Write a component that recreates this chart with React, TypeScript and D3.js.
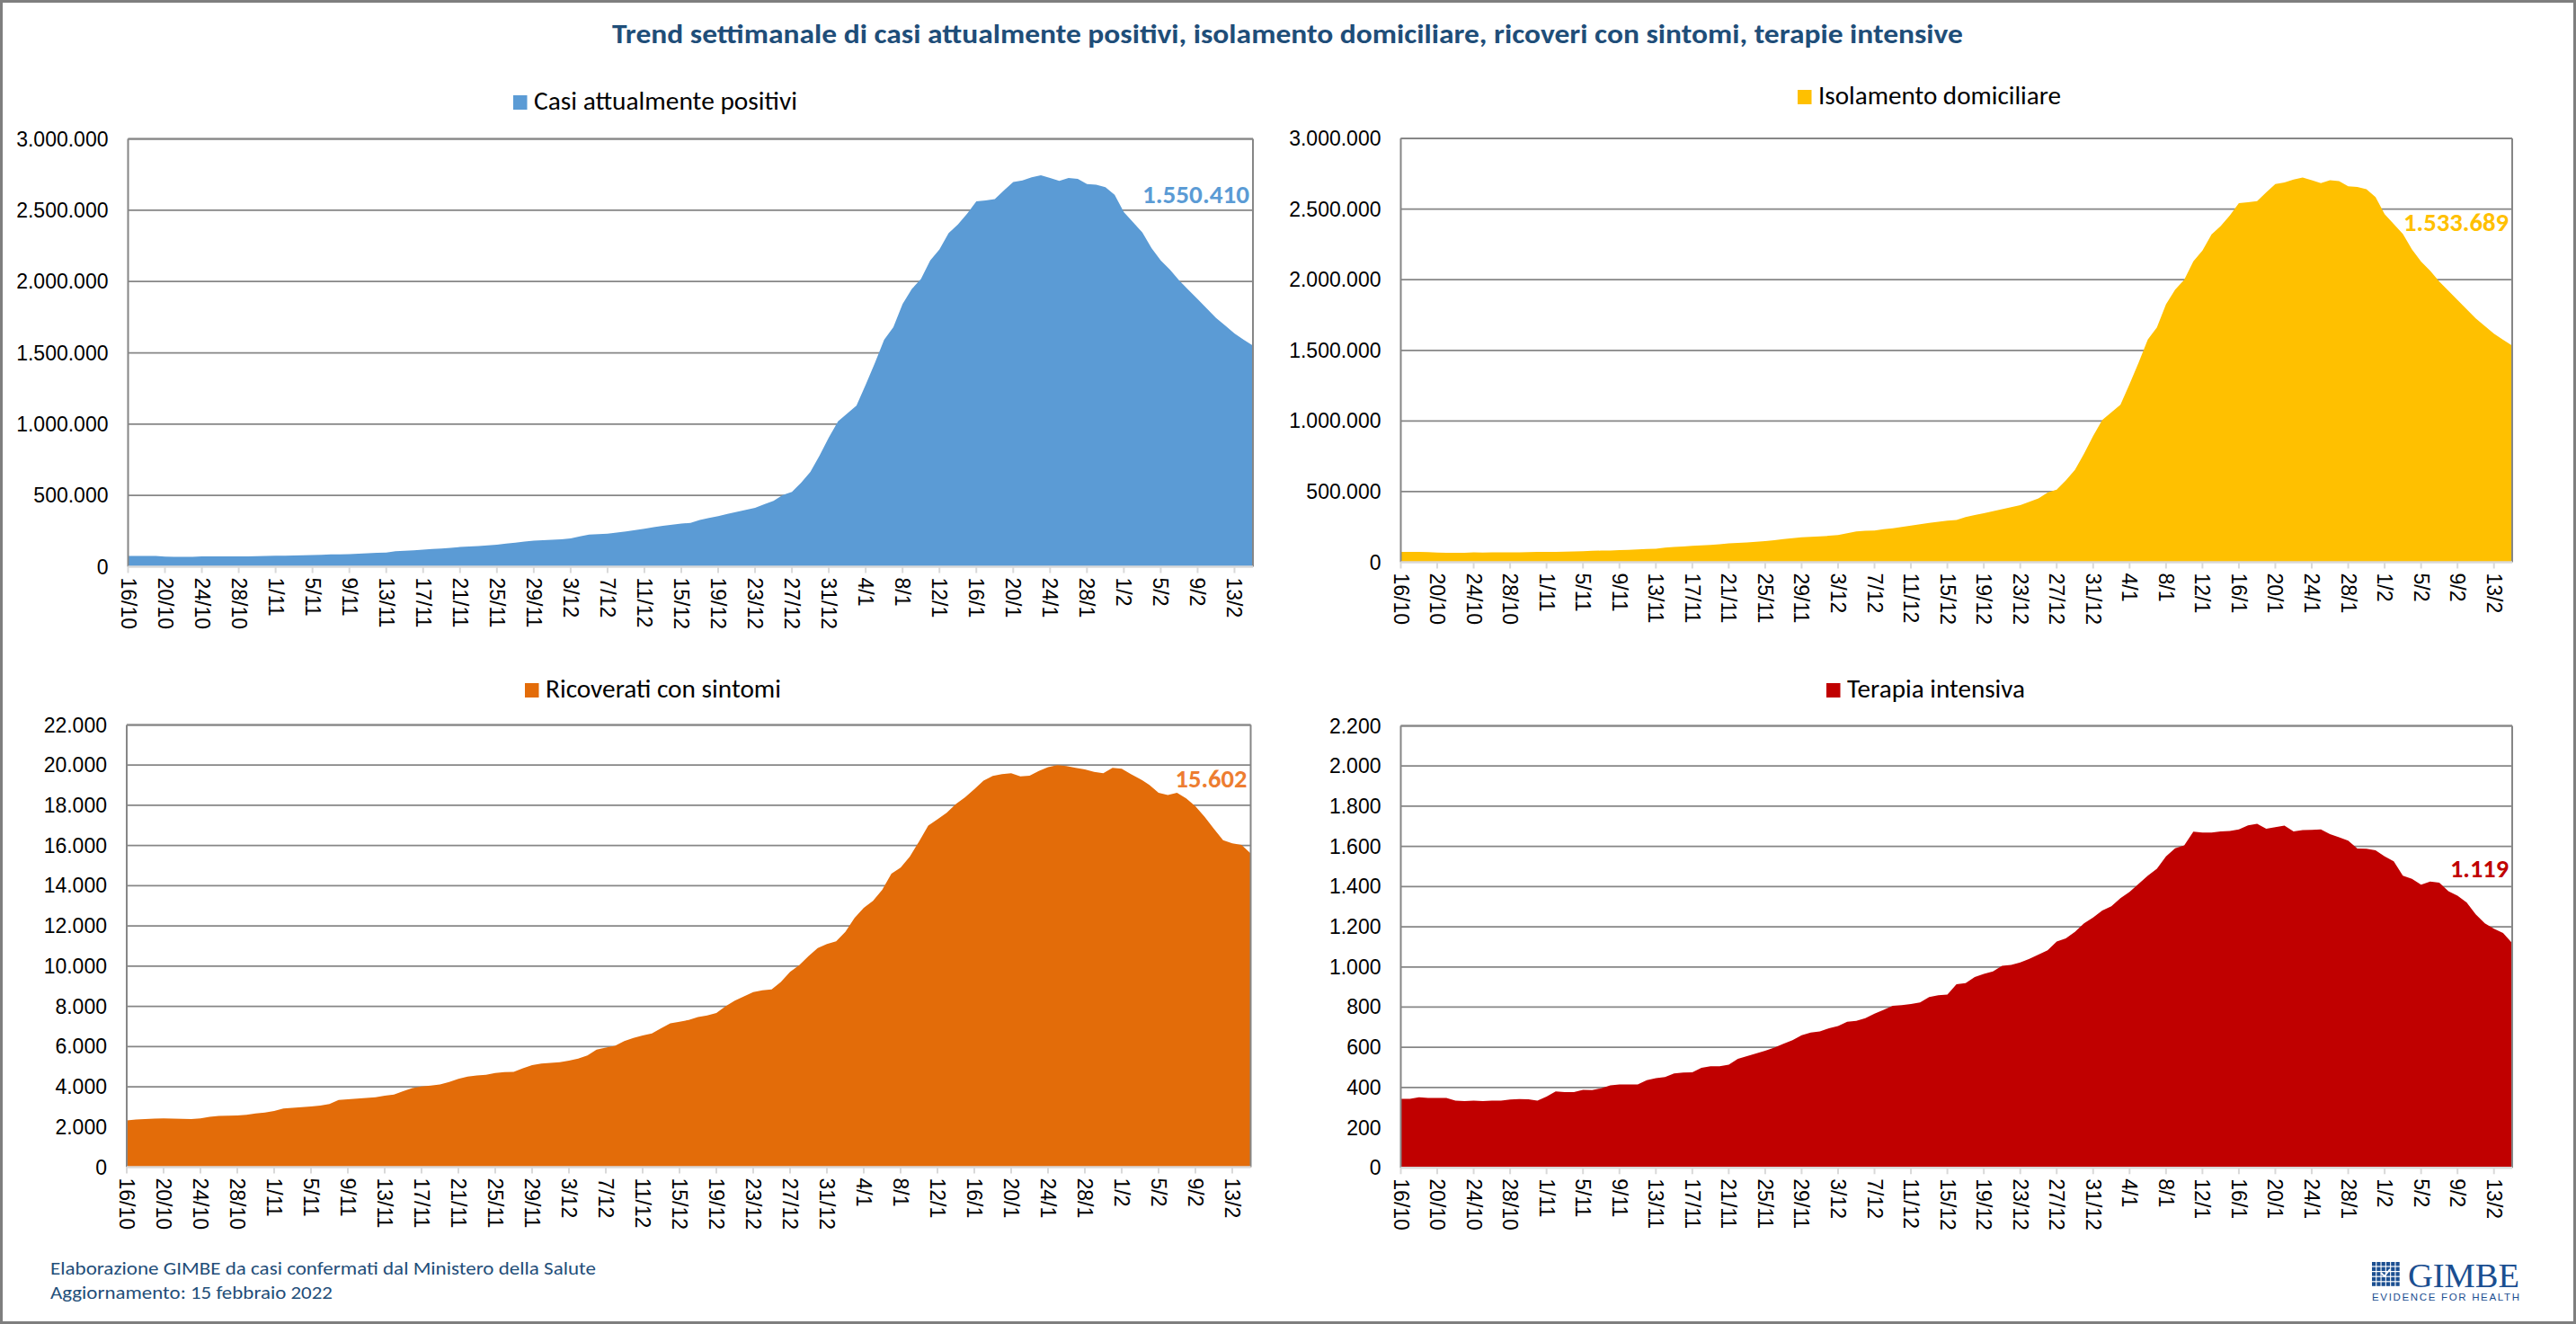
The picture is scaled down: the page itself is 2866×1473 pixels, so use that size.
import React from 'react';
import * as d3 from 'd3';

const W = 2866;
const H = 1473;

const TITLE = 'Trend settimanale di casi attualmente positivi, isolamento domiciliare, ricoveri con sintomi, terapie intensive';
const LEGENDS = ['Casi attualmente positivi', 'Isolamento domiciliare', 'Ricoverati con sintomi', 'Terapia intensiva'];
const FOOTER = ['Elaborazione GIMBE da casi confermati dal Ministero della Salute', 'Aggiornamento: 15 febbraio 2022'];

// categories: daily from 16/10/2021 to 15/02/2022
const dates = d3.timeDay.range(new Date(2021, 9, 16), new Date(2022, 1, 16));
const dateLabels = dates.map((d) => `${d.getDate()}/${d.getMonth() + 1}`);
const TICK_EVERY = 4;

const casiPositivi = [
  76000, 76000, 76000, 75000, 71000, 70000, 70000, 70000, 72000, 72000,
  73000, 73000, 73000, 73000, 74000, 76000, 77000, 77000, 78000, 80000,
  82000, 84000, 86000, 87000, 89000, 91000, 94000, 97000, 100000, 108000,
  112000, 115000, 120000, 124000, 127000, 132000, 138000, 142000, 145000, 150000,
  155000, 162000, 169000, 176000, 182000, 186000, 189000, 193000, 198000, 212000,
  225000, 229000, 231000, 240000, 248000, 257000, 266000, 277000, 286000, 294000,
  302000, 308000, 328000, 342000, 355000, 370000, 384000, 399000, 413000, 438000,
  462000, 503000, 525000, 590000, 665000, 780000, 906000, 1020000, 1074000, 1129000,
  1276000, 1429000, 1592000, 1679000, 1842000, 1947000, 2018000, 2148000, 2225000, 2340000,
  2399000, 2475000, 2562000, 2569000, 2578000, 2639000, 2698000, 2709000, 2730000, 2744000,
  2726000, 2705000, 2726000, 2719000, 2683000, 2678000, 2661000, 2607000, 2486000, 2415000,
  2344000, 2235000, 2148000, 2083000, 2007000, 1941000, 1876000, 1810000, 1744000, 1690000,
  1635000, 1592000, 1550410,
];

const isolamento = [
  73327, 73287, 73254, 72232, 68225, 67242, 67265, 67273, 69235, 69162,
  70115, 70105, 70090, 70058, 70989, 72945, 73851, 73699, 74673, 76638,
  78592, 80553, 82459, 83252, 85205, 87175, 90145, 93084, 95993, 103940,
  107750, 110596, 115514, 119442, 122375, 127254, 133096, 136957, 139884, 144840,
  149737, 156672, 163641, 170448, 176270, 180170, 183131, 187085, 191994, 205877,
  218712, 222405, 224283, 233180, 240919, 249760, 258635, 269527, 278237, 285989,
  293905, 299766, 319611, 333500, 346365, 361022, 374714, 389490, 403268, 428160,
  452098, 492707, 514154, 578808, 653326, 767883, 893654, 1007479, 1060998, 1115258,
  1261726, 1414336, 1576746, 1662911, 1825550, 1929960, 2000195, 2129337, 2206021, 2320701,
  2379256, 2454923, 2541515, 2548065, 2556828, 2617762, 2676704, 2687856, 2708856, 2722609,
  2704418, 2683315, 2704389, 2697485, 2661581, 2656751, 2639812, 2585549, 2464630, 2393924,
  2323236, 2214542, 2127971, 2063065, 1986961, 1921273, 1856695, 1791249, 1725908, 1672513,
  1617700, 1574801, 1533689,
];

const ricoverati = [
  2330, 2370, 2395, 2420, 2427, 2410, 2400, 2395, 2430, 2506,
  2550, 2560, 2570, 2600, 2670, 2720, 2794, 2921, 2950, 2985,
  3020, 3060, 3145, 3337, 3380, 3410, 3440, 3480, 3560, 3608,
  3780, 3930, 4010, 4060, 4119, 4240, 4390, 4500, 4560, 4590,
  4680, 4730, 4741, 4917, 5070, 5156, 5190, 5220, 5300, 5396,
  5556, 5850, 5950, 6034, 6274, 6430, 6550, 6650, 6913, 7152,
  7232, 7320, 7470, 7550, 7670, 8000, 8280, 8500, 8710, 8800,
  8840, 9210, 9720, 10050, 10500, 10900, 11100, 11240, 11700, 12400,
  12900, 13250, 13800, 14600, 14900, 15450, 16200, 16990, 17310, 17630,
  18070, 18400, 18800, 19230, 19460, 19550, 19600, 19440, 19470, 19710,
  19900, 20000, 19950, 19870, 19790, 19660, 19600, 19870, 19820, 19550,
  19310, 19020, 18620, 18510, 18620, 18350, 17950, 17430, 16830, 16270,
  16110, 16030, 15602,
];

const terapiaIntensiva = [
  343, 343, 351, 348, 348, 348, 335, 332, 335, 332,
  335, 335, 340, 342, 341, 335, 355, 380, 377, 377,
  388, 387, 396, 411, 415, 415, 415, 436, 447, 452,
  470, 474, 476, 498, 506, 506, 514, 543, 556, 570,
  583, 598, 618, 635, 660, 674, 679, 695, 706, 727,
  732, 745, 767, 786, 807, 810, 815, 823, 850, 859,
  863, 914, 919, 950, 965, 978, 1006, 1010, 1022, 1040,
  1062, 1083, 1126, 1142, 1174, 1217, 1246, 1281, 1302, 1342,
  1374, 1414, 1454, 1489, 1550, 1590, 1605, 1673, 1669, 1669,
  1674, 1677, 1685, 1705, 1712, 1688, 1696, 1704, 1674, 1681,
  1682, 1685, 1661, 1645, 1629, 1589, 1588, 1581, 1550, 1526,
  1454, 1438, 1409, 1425, 1419, 1377, 1355, 1321, 1262, 1217,
  1190, 1169, 1119,
];

const fmt = d3
  .formatLocale({ decimal: ',', thousands: '.', grouping: [3], currency: ['€', ''] })
  .format(',d');

const CAL = "Carlito, Calibri, Lato, 'Open Sans', sans-serif";
const ARIAL = "'Liberation Sans', Arial, 'DejaVu Sans', sans-serif";
const GRID = '#868686';
const AXIS = '#D9D9D9';

const panels = [
  {
    id: 'pos', values: casiPositivi, legend: LEGENDS[0], color: '#5B9BD5', labelColor: '#5B9BD5',
    yMax: 3000000, yStep: 500000, l: 142.5, r: 1394, t: 154.5, b: 630.5,
    legendX: 571, legendY: 106, legendW: 293, labelY: 226, labelW: 119,
  },
  {
    id: 'iso', values: isolamento, legend: LEGENDS[1], color: '#FFC000', labelColor: '#FFC000',
    yMax: 3000000, yStep: 500000, l: 1558.5, r: 2795, t: 154, b: 625.5,
    legendX: 2000, legendY: 100, legendW: 270, labelY: 257, labelW: 117,
  },
  {
    id: 'ric', values: ricoverati, legend: LEGENDS[2], color: '#E36C09', labelColor: '#ED7D31',
    yMax: 22000, yStep: 2000, l: 141, r: 1391.5, t: 806.5, b: 1298.5,
    legendX: 584, legendY: 760, legendW: 262, labelY: 876, labelW: 80,
  },
  {
    id: 'ti', values: terapiaIntensiva, legend: LEGENDS[3], color: '#C00000', labelColor: '#C00000',
    yMax: 2200, yStep: 200, l: 1558.5, r: 2795, t: 807.5, b: 1299.3,
    legendX: 2032, legendY: 760, legendW: 198, labelY: 976, labelW: 65,
  },
];

type P = (typeof panels)[number];

function Panel({ p }: { p: P }) {
  const x = d3.scaleLinear().domain([0, p.values.length - 1]).range([p.l, p.r]);
  const y = d3.scaleLinear().domain([0, p.yMax]).range([p.b, p.t]);
  const area = d3
    .area<number>()
    .x((_, i) => x(i))
    .y0(y(0))
    .y1((d) => y(d));
  const yTicks = d3.range(0, p.yMax + p.yStep / 2, p.yStep);
  const xIdx = d3.range(0, p.values.length, TICK_EVERY);
  const last = p.values[p.values.length - 1];
  return (
    <g>
      {/* legend */}
      <rect x={p.legendX} y={p.legendY} width={15.5} height={16} fill={p.color} />
      <text
        x={p.legendX + 23}
        y={p.legendY + 16}
        fontFamily={CAL}
        fontSize={29}
        fill="#000"
        textLength={p.legendW}
        lengthAdjust="spacingAndGlyphs"
      >
        {p.legend}
      </text>
      {/* gridlines */}
      {yTicks
        .filter((t) => t > 0)
        .map((t) => (
          <line key={t} x1={p.l} x2={p.r} y1={y(t)} y2={y(t)} stroke={GRID} strokeWidth={1.75} />
        ))}
      {/* area */}
      <path d={area(p.values) || ''} fill={p.color} />
      {/* plot border */}
      <line x1={p.l} x2={p.l} y1={p.t} y2={p.b} stroke={GRID} strokeWidth={2} />
      <line x1={p.r} x2={p.r} y1={p.t} y2={p.b} stroke={GRID} strokeWidth={2} />
      <line x1={p.l} x2={p.r} y1={p.t} y2={p.t} stroke={GRID} strokeWidth={2} />
      {/* x axis */}
      <line x1={p.l} x2={p.r} y1={p.b} y2={p.b} stroke={AXIS} strokeWidth={2.5} />
      {xIdx.map((i) => (
        <line key={i} x1={x(i)} x2={x(i)} y1={p.b} y2={p.b + 7} stroke={AXIS} strokeWidth={2} />
      ))}
      {xIdx.map((i) => (
        <text
          key={'l' + i}
          transform={`translate(${x(i)},${p.b + 12}) rotate(90)`}
          fontFamily={ARIAL}
          fontSize={23}
          dominantBaseline="central"
          textAnchor="start"
          fill="#000"
        >
          {dateLabels[i]}
        </text>
      ))}
      {/* y labels */}
      {yTicks.map((t) => (
        <text
          key={'y' + t}
          x={p.l - 22}
          y={y(t)}
          fontFamily={ARIAL}
          fontSize={23}
          textAnchor="end"
          dominantBaseline="central"
          fill="#000"
        >
          {fmt(t)}
        </text>
      ))}
      {/* last value label */}
      <text
        x={p.r - 4}
        y={p.labelY}
        fontFamily={CAL}
        fontWeight="bold"
        fontSize={29}
        textAnchor="end"
        fill={p.labelColor}
        textLength={p.labelW}
        lengthAdjust="spacingAndGlyphs"
      >
        {fmt(last)}
      </text>
    </g>
  );
}

function Logo() {
  const cols = d3.range(6);
  const rows = d3.range(5);
  const x0 = 2639;
  const y0 = 1404;
  return (
    <g>
      {rows.map((r) =>
        cols.map((c) => (
          <rect key={r + '-' + c} x={x0 + c * 5.3} y={y0 + r * 5.6} width={4.2} height={4.4} fill="#1B4F91" />
        ))
      )}
      <path d={`M${x0 + 10} ${y0 + 12} L${x0 + 14} ${y0 + 16} L${x0 + 20} ${y0 + 8}`} stroke="#fff" strokeWidth={1.8} fill="none" />
      <text
        x={2679}
        y={1432}
        fontFamily="'Liberation Serif', 'DejaVu Serif', serif"
        fontSize={38}
        fill="#1B4F91"
        textLength={124}
        lengthAdjust="spacingAndGlyphs"
      >
        GIMBE
      </text>
      <text
        x={2639}
        y={1447}
        fontFamily={ARIAL}
        fontSize={11.5}
        fill="#1B4F91"
        textLength={164}
        lengthAdjust="spacing"
      >
        EVIDENCE FOR HEALTH
      </text>
    </g>
  );
}

export default function App() {
  return (
    <svg
      width={W}
      height={H}
      viewBox={`0 0 ${W} ${H}`}
      style={{ position: 'absolute', left: 0, top: 0, display: 'block', background: '#fff' }}
    >
      <rect x={1.5} y={1.5} width={W - 3} height={H - 3} fill="#fff" stroke="#7F7F7F" strokeWidth={3} />
      <text
        x={681}
        y={48}
        fontFamily={CAL}
        fontWeight="bold"
        fontSize={31}
        fill="#1F4E79"
        textLength={1503}
        lengthAdjust="spacingAndGlyphs"
      >
        {TITLE}
      </text>
      {panels.map((p) => (
        <Panel key={p.id} p={p} />
      ))}
      <text x={56} y={1418} fontFamily={CAL} fontSize={21} fill="#1F4E79" textLength={607} lengthAdjust="spacingAndGlyphs">
        {FOOTER[0]}
      </text>
      <text x={56} y={1445} fontFamily={CAL} fontSize={21} fill="#1F4E79" textLength={314} lengthAdjust="spacingAndGlyphs">
        {FOOTER[1]}
      </text>
      <Logo />
    </svg>
  );
}
